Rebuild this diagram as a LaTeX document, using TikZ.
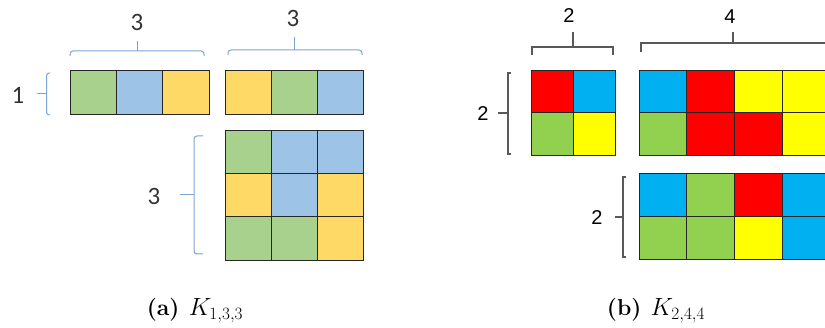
\documentclass[tikz,border=0pt]{standalone}
\usepackage{fontspec}
\newfontfamily\calfont{Carlito}
\newfontfamily\arialfont{Liberation Sans}
\definecolor{agreen}{HTML}{A9D18E}
\definecolor{ablue}{HTML}{9DC3E6}
\definecolor{ayellow}{HTML}{FFD966}
\definecolor{bred}{HTML}{FF0000}
\definecolor{bblue}{HTML}{00B0F0}
\definecolor{byellow}{HTML}{FFFF00}
\definecolor{bgreen}{HTML}{92D050}
\definecolor{abrace}{HTML}{7BA3D6}
\definecolor{bbrace}{HTML}{595959}

% block of coloured cells: x0, y0, width, height, rows of colours
\newcommand\cellblock[5]{%
  \foreach \rowcols [count=\r from 0] in {#5} {
    \foreach \c [count=\k from 0] in \rowcols {
      \filldraw[cellbox,fill=\c] ({#1+\k*#3},{#2+\r*#4}) rectangle ++(#3,#4);
    }
  }%
}

\tikzset{
  cellbox/.style={draw=black!85,line width=0.9pt},
  abr/.style={draw=abrace,line width=1pt,rounded corners=3pt},
  bbr/.style={draw=bbrace,line width=1.1pt},
  alabel/.style={font=\calfont\fontsize{25}{28}\selectfont,text=black!80},
  blabel/.style={font=\arialfont\fontsize{20}{24}\selectfont,text=black},
}

\begin{document}
\begin{tikzpicture}[x=1pt,y=-1pt]
  \clip (0,0) rectangle (825,328);

  % (a) K_{1,3,3}
  \cellblock{70}{70}{46.4}{44}{{agreen,ablue,ayellow}}
  \cellblock{225}{70}{46.3}{44}{{ayellow,agreen,ablue}}
  \cellblock{225}{130}{46.3}{43.4}{{agreen,ablue,ablue},{ayellow,ablue,ayellow},{agreen,agreen,ayellow}}

  % braces of (a)
  \draw[abr] (70,56) -- (70,51) -- (204,51) -- (204,56);
  \draw[abr] (137,51) -- (137,41);
  \draw[abr] (228,55) -- (228,50) -- (362,50) -- (362,55);
  \draw[abr] (294,50) -- (294,37);
  \draw[abr] (50,73) -- (46.5,73) -- (46.5,115) -- (50,115);
  \draw[abr] (46.5,94) -- (37,94);
  \draw[abr] (203,136) -- (194,136) -- (194,254) -- (203,254);
  \draw[abr] (194,195) -- (180,195);

  \node[alabel] (a3top) at (137,22) {3};
  \node[alabel] (a3right) at (293,18) {3};
  \node[alabel] (a1) at (18,95) {1};
  \node[alabel] (a3low) at (154,196) {3};

  % (b) K_{2,4,4}
  \cellblock{531}{70}{42.2}{42.5}{{bred,bblue},{bgreen,byellow}}
  \cellblock{639}{70}{47.7}{42.5}{{bblue,bred,byellow,byellow},{bgreen,bred,bred,byellow}}
  \cellblock{639}{173}{47.7}{43}{{bblue,bgreen,bred,bblue},{bgreen,bgreen,byellow,bblue}}

  % brackets of (b)
  \draw[bbr] (532,55) -- (532,47) -- (613,47) -- (613,55);
  \draw[bbr] (573,47) -- (573,32);
  \draw[bbr] (641,52) -- (641,43) -- (826,43) -- (826,52);
  \draw[bbr] (733,43) -- (733,32);
  \draw[bbr] (511,73) -- (508,73) -- (508,154) -- (511,154);
  \draw[bbr] (508,113) -- (498,113);
  \draw[bbr] (626,177) -- (623,177) -- (623,257) -- (626,257);
  \draw[bbr] (623,217) -- (615,217);

  \node[blabel] (b2top) at (569,16) {2};
  \node[blabel] (b4top) at (730,17) {4};
  \node[blabel] (b2left) at (483,114) {2};
  \node[blabel] (b2low) at (597,218) {2};

  % captions
  \node[anchor=base,font=\fontsize{23}{28}\selectfont] (capa) at (195,316) {\textbf{(a)}\hspace{0.4em}$K_{1,3,3}$};
  \node[anchor=base,font=\fontsize{23}{28}\selectfont] (capb) at (656,316) {\textbf{(b)}\hspace{0.4em}$K_{2,4,4}$};
\end{tikzpicture}
\end{document}
